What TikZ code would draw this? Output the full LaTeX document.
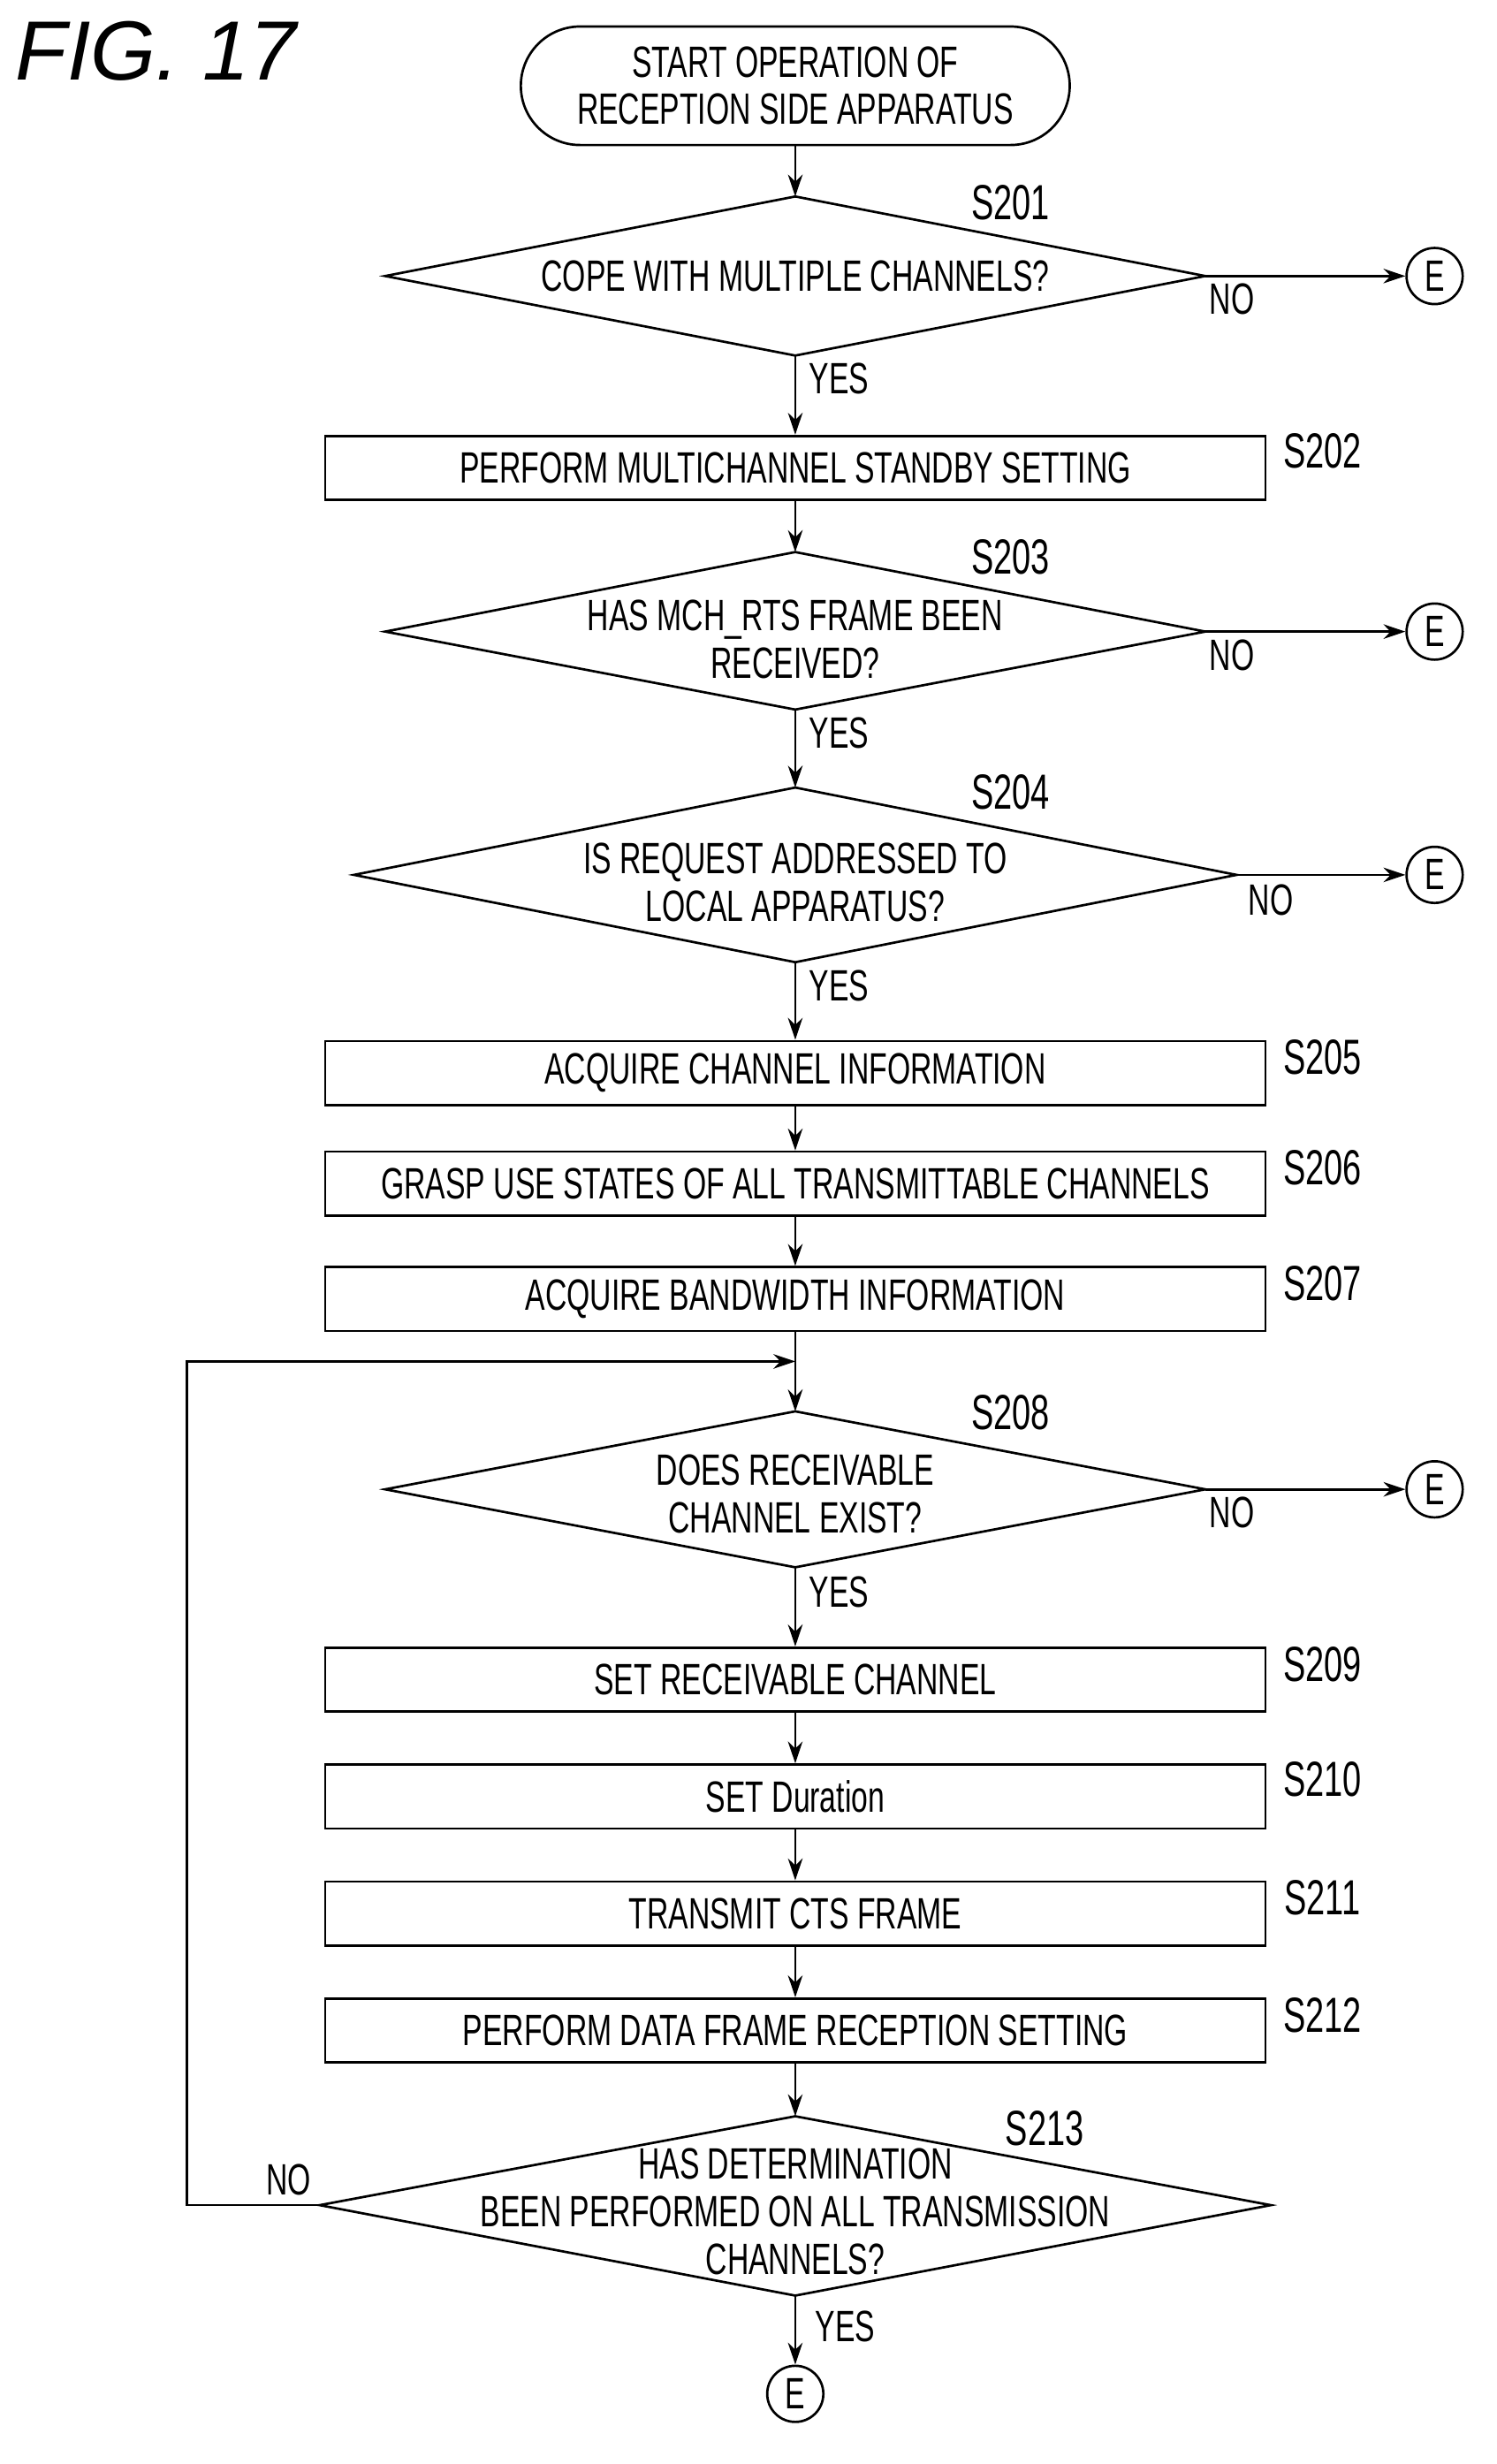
\documentclass[tikz,border=0pt]{standalone}
\usepackage{fontspec}
\setmainfont{Liberation Sans}[FakeStretch=0.68]
\newfontfamily\figfont{Liberation Sans}
\usetikzlibrary{shapes.geometric,arrows.meta}
\begin{document}
\begin{tikzpicture}[x=0.03cm,y=-0.03cm,
  txt/.style={font=\fontsize{24}{26}\selectfont, align=center},
  box/.style={draw, line width=1.3pt, minimum width=603*0.03cm, minimum height=41*0.03cm, inner sep=0pt, txt},
  dia/.style={draw, line width=1.3pt, diamond, aspect=#1, inner sep=0pt, txt},
  lab/.style={font=\fontsize{27}{29}\selectfont},
  yn/.style={font=\fontsize{24}{26}\selectfont},
  conn/.style={draw, circle, line width=1.3pt, minimum size=36*0.03cm, inner sep=0pt, font=\fontsize{24}{26}\selectfont},
  arr/.style={line width=1.3pt, -{Stealth[length=12pt,width=8pt]}},
  ln/.style={line width=1.3pt}]
\useasboundingbox (0,0) rectangle (960,1580);
\node[font=\figfont\fontsize{46}{48}\selectfont\itshape] (fig) at (100,33) {FIG. 17};
\node[draw, line width=1.3pt, rounded corners=38*0.03cm, minimum width=352*0.03cm, minimum height=76*0.03cm, txt] (st) at (510,55) {START OPERATION OF\\RECEPTION SIDE APPARATUS};
% diamonds drawn as paths with named coordinates
\newcommand{\dmd}[6]{%
  \coordinate (#1t) at (#2,#4); \coordinate (#1b) at (#2,#5);
  \coordinate (#1l) at (#3,#6); \coordinate (#1r) at ({2*#2-#3},#6);
  \draw[ln] (#1t) -- (#1r) -- (#1b) -- (#1l) -- cycle;}
\dmd{d1}{510}{247}{126}{228}{177}
\node[txt] (t1) at (510,177) {COPE WITH MULTIPLE CHANNELS?};
\node[box] (b2) at (510,300) {PERFORM MULTICHANNEL STANDBY SETTING};
\dmd{d3}{510}{247}{354}{455}{405}
\node[txt] (t3) at (510,410) {HAS MCH\_RTS FRAME BEEN\\RECEIVED?};
\dmd{d4}{510}{227}{505}{617}{561}
\node[txt] (t4) at (510,566) {IS REQUEST ADDRESSED TO\\LOCAL APPARATUS?};
\node[box] (b5) at (510,688) {ACQUIRE CHANNEL INFORMATION};
\node[box] (b6) at (510,759) {GRASP USE STATES OF ALL TRANSMITTABLE CHANNELS};
\node[box] (b7) at (510,833) {ACQUIRE BANDWIDTH INFORMATION};
\dmd{d8}{510}{247}{905}{1005}{955}
\node[txt] (t8) at (510,958) {DOES RECEIVABLE\\CHANNEL EXIST?};
\node[box] (b9) at (510,1077) {SET RECEIVABLE CHANNEL};
\node[box] (b10) at (510,1152) {SET Duration};
\node[box] (b11) at (510,1227) {TRANSMIT CTS FRAME};
\node[box] (b12) at (510,1302) {PERFORM DATA FRAME RECEPTION SETTING};
\dmd{d13}{510}{205}{1357}{1472}{1414}
\node[txt] (t13) at (510,1418) {HAS DETERMINATION\\BEEN PERFORMED ON ALL TRANSMISSION\\CHANNELS?};
% labels
\node[lab] (l1) at (648,130) {S201};
\node[lab] (l2) at (848,289) {S202};
\node[lab] (l3) at (648,357) {S203};
\node[lab] (l4) at (648,508) {S204};
\node[lab] (l5) at (848,678) {S205};
\node[lab] (l6) at (848,749) {S206};
\node[lab] (l7) at (848,823) {S207};
\node[lab] (l8) at (648,906) {S208};
\node[lab] (l9) at (848,1067) {S209};
\node[lab] (l10) at (848,1141) {S210};
\node[lab] (l11) at (848,1217) {S211};
\node[lab] (l12) at (848,1292) {S212};
\node[lab] (l13) at (670,1365) {S213};
% E connectors
\node[conn] (e1) at (920,177) {E};
\node[conn] (e3) at (920,405) {E};
\node[conn] (e4) at (920,561) {E};
\node[conn] (e8) at (920,955) {E};
\node[conn] (e13) at (510,1535) {E};
% yes/no
\node[yn] (n1) at (790,192) {NO};
\node[yn] (n3) at (790,420) {NO};
\node[yn] (n4) at (815,577) {NO};
\node[yn] (n8) at (790,970) {NO};
\node[yn] (n13) at (185,1398) {NO};
\node[yn] (y1) at (538,243) {YES};
\node[yn] (y3) at (538,470) {YES};
\node[yn] (y4) at (538,632) {YES};
\node[yn] (y8) at (538,1021) {YES};
\node[yn] (y13) at (542,1492) {YES};
% connectors
\draw[arr] (st) -- (d1t);
\draw[arr] (d1b) -- (b2);
\draw[arr] (b2) -- (d3t);
\draw[arr] (d3b) -- (d4t);
\draw[arr] (d4b) -- (b5);
\draw[arr] (b5) -- (b6);
\draw[arr] (b6) -- (b7);
\draw[arr] (b7) -- (d8t);
\draw[arr] (d8b) -- (b9);
\draw[arr] (b9) -- (b10);
\draw[arr] (b10) -- (b11);
\draw[arr] (b11) -- (b12);
\draw[arr] (b12) -- (d13t);
\draw[arr] (d13b) -- (e13);
\draw[arr] (d1r) -- (e1);
\draw[arr] (d3r) -- (e3);
\draw[arr] (d4r) -- (e4);
\draw[arr] (d8r) -- (e8);
\coordinate (lp) at (510,873);
\draw[arr] (d13l) -- (120,1414) -- (120,873) -- (lp);
\end{tikzpicture}
\end{document}
